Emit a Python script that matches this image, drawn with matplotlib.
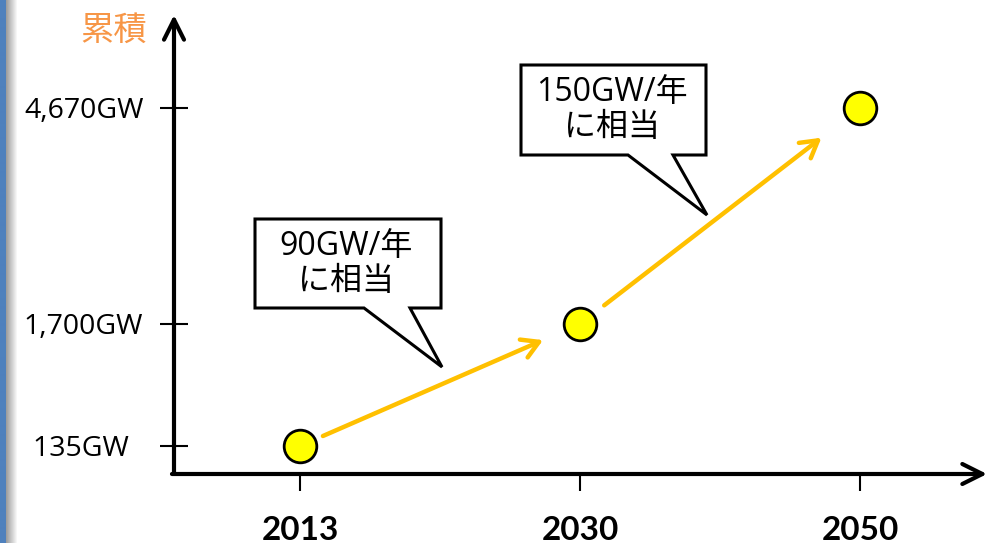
import numpy as np
import matplotlib.pyplot as plt
from matplotlib.patches import Polygon

plt.rcParams['font.family'] = ['Open Sans', 'Noto Sans CJK JP', 'DejaVu Sans']

# cumulative capacity per year
years = ['2013', '2030', '2050']
capacity = [135, 1700, 4670]
cap_labels = ['135GW  ', '1,700GW', '4,670GW']
rate_notes = ['90GW/年\nに相当', '150GW/年\nに相当']

# the y axis is schematic: piecewise-linear spacing between the marked values
knots_v = [-10000, 0, 135, 1700, 4670, 5949, 20000]
knots_p = [-2074, 0, 28, 150, 366, 459, 1480]


def fwd(v):
    return np.interp(v, knots_v, knots_p)


def inv(p):
    return np.interp(p, knots_p, knots_v)


W, H = 988, 543
fig = plt.figure(figsize=(W / 100, H / 100), dpi=100)


def fpos(x, y):
    # pixel position (from top-left) -> figure fraction
    return (x / W, 1 - y / H)


# blue page edge with a soft shadow
edge = np.ones((1, 18, 3))
edge[0, :6] = np.array([79, 129, 189]) / 255
edge[0, 6:] = np.linspace(0.62, 1.0, 12)[:, None]
bax = fig.add_axes([0, 0, 18 / W, 1])
bax.imshow(edge, aspect='auto', interpolation='bilinear')
bax.axis('off')

ax = fig.add_axes([174 / W, 69 / H, 813 / W, 459 / H])
ax.set_yscale('function', functions=(fwd, inv))
ax.set_xlim(-0.45, 2.4536)
ax.set_ylim(0, 5949)
for s in ax.spines.values():
    s.set_visible(False)

# axis lines with open arrowheads
axis_arrow = dict(arrowstyle='->,head_length=0.72,head_width=0.36', lw=3,
                  color='black', shrinkA=0, shrinkB=0, mutation_scale=20,
                  clip_on=False)
ax.annotate('', xy=(0, 1), xytext=(0, 0), xycoords='axes fraction',
            arrowprops=axis_arrow)
ax.annotate('', xy=(1, 0), xytext=(-0.0025, 0), xycoords='axes fraction',
            arrowprops=axis_arrow)

ax.set_xticks(range(len(years)))
ax.set_xticklabels(years, fontweight='bold', fontsize=24, family='Lato')
ax.set_yticks(capacity)
ax.set_yticklabels(cap_labels, fontsize=20.5)
ax.minorticks_off()
ax.tick_params(axis='y', direction='inout', length=20, width=1.5, pad=12)
ax.tick_params(axis='x', direction='out', length=12, width=1.5, pad=18)

# growth arrows between the points
shrinks = [(18, 29), (22, 35)]
for i in range(len(years) - 1):
    ax.annotate('', xy=(i + 1, capacity[i + 1]), xytext=(i, capacity[i]),
                arrowprops=dict(arrowstyle='->,head_length=0.6,head_width=0.35',
                                color='#FFC000', lw=3.2, mutation_scale=20,
                                shrinkA=shrinks[i][0], shrinkB=shrinks[i][1]))

ax.plot(range(len(years)), capacity, 'o', ms=23.5, mfc='#FFFF00', mec='black',
        mew=2, zorder=5, clip_on=False)

# speech bubbles
bubbles = [
    [(255, 219), (441, 219), (441, 308), (410, 308), (442, 367), (364, 308), (255, 308)],
    [(521, 65), (706, 65), (706, 155), (673, 155), (707, 215), (628, 155), (521, 155)],
]
centers = [(346, 264), (612, 110)]
for verts, (cx, cy), note in zip(bubbles, centers, rate_notes):
    fig.add_artist(Polygon([fpos(x, y) for x, y in verts], closed=True,
                           transform=fig.transFigure, facecolor='white',
                           edgecolor='black', lw=2.2, joinstyle='miter'))
    fig.text(*fpos(cx, cy), note, ha='center', va='center', fontsize=23,
             linespacing=1.1)

fig.text(*fpos(114, 31), '累積', ha='center', va='center', fontsize=24,
         color='#F79646')

fig.savefig('out.png', dpi=100)
